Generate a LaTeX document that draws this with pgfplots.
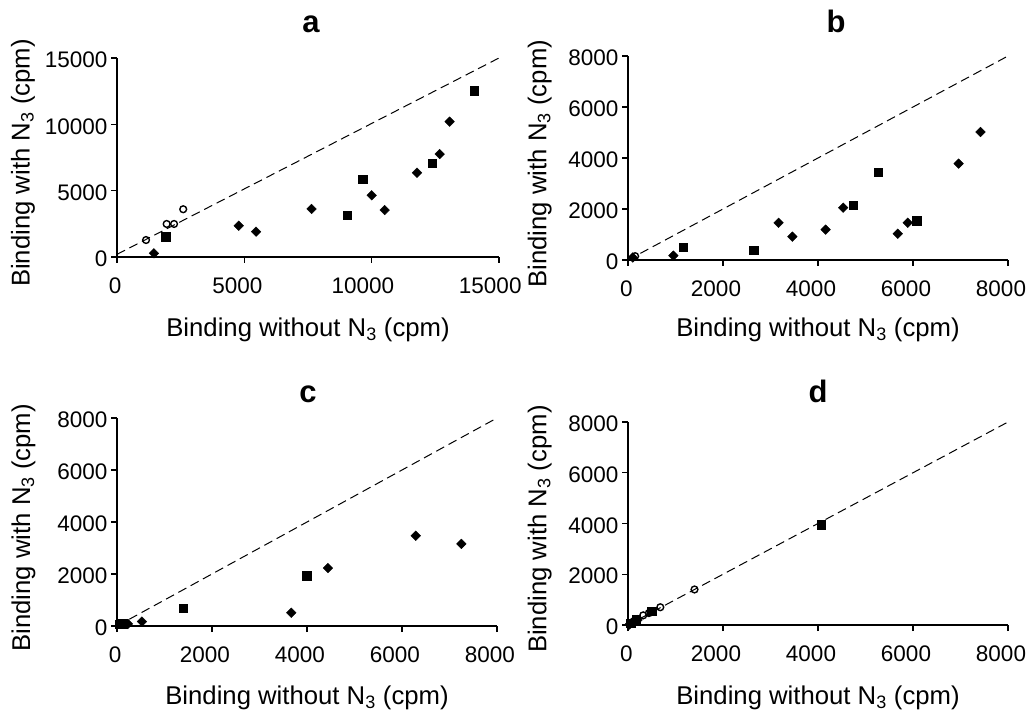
\documentclass[border=0pt]{standalone}
\usepackage{fontspec}
\setmainfont{Liberation Sans}
\usepackage{pgfplots}
\pgfplotsset{compat=1.18}
\begin{document}
\begin{tikzpicture}
\useasboundingbox (0,0) rectangle (1035pt,715pt);
\pgfplotsset{
 panel/.style={
  scale only axis,
  axis lines=left, axis line style={-, line width=1.2pt},
  tick align=outside, major tick length=6pt, tick style={line width=1.2pt, black},
  xmin=0, ymin=0,
  scaled ticks=false,
  tick label style={font=\fontsize{22.5}{22.5}\selectfont},
  xticklabel={\sbox0{\pgfmathprintnumber{\tick}}\usebox0\hspace*{0.28\wd0}},
  xticklabel style={yshift=-11pt},
  yticklabel style={yshift=-2pt},
  /pgf/number format/assume math mode=true,
  /pgf/number format/1000 sep={},
  xlabel={Binding without N\textsubscript{3} (cpm)},
  ylabel={Binding with N\textsubscript{3} (cpm)},
  label style={font=\fontsize{25.7}{25.7}\selectfont},
  clip=false,
 },
 dia/.style={only marks, mark=square*, mark size=3.4pt, black, mark options={rotate=45}},
 sq/.style={only marks, mark=square*, mark size=4.2pt, black},
 circ/.style={only marks, mark=o, mark size=3.4pt, black, mark options={line width=1.4pt, fill=white}},
 refl/.style={black, dash pattern=on 9pt off 5pt, line width=1pt, no marks},
}
% ---------------- panel a
\begin{axis}[panel, at={(117pt,458pt)}, anchor=south west, width=382pt, height=199pt,
  xmax=15000, ymax=15000, xtick={0,5000,10000,15000}, ytick={0,5000,10000,15000},
  xlabel style={at={(axis description cs:0.5,-0.367)}, anchor=center},
  ylabel style={at={(axis description cs:-0.246,0.472)}, anchor=center}]
\addplot[refl] coordinates {(0,200) (15000,15000)};
\addplot[dia] coordinates {(1450,280) (4780,2360) (5460,1910) (7640,3620) (10000,4650) (10510,3540) (11780,6350) (12670,7760) (13060,10200)};
\addplot[sq] coordinates {(1910,1530) (9030,3140) (9650,5880) (12370,7080) (14020,12530)};
\addplot[circ] coordinates {(1140,1280) (1950,2490) (2240,2490) (2600,3600)};
\end{axis}
% ---------------- panel b
\begin{axis}[panel, at={(628pt,455pt)}, anchor=south west, width=380pt, height=204pt,
  xmax=8000, ymax=8000, xtick={0,2000,4000,6000,8000}, ytick={0,2000,4000,6000,8000},
  xlabel style={at={(axis description cs:0.5,-0.343)}, anchor=center},
  ylabel style={at={(axis description cs:-0.232,0.472)}, anchor=center}]
\addplot[refl] coordinates {(0,0) (8000,8000)};
\addplot[dia] coordinates {(100,100) (955,170) (3170,1460) (3460,915) (4160,1190) (4530,2050) (5680,1030) (5890,1460) (6960,3780) (7420,5020)};
\addplot[sq] coordinates {(1160,510) (2650,390) (4740,2160) (5270,3440) (6080,1540)};
\addplot[circ] coordinates {(150,150)};
\end{axis}
% ---------------- panel c
\begin{axis}[panel, at={(117pt,89pt)}, anchor=south west, width=380pt, height=208pt,
  xmax=8000, ymax=8000, xtick={0,2000,4000,6000,8000}, ytick={0,2000,4000,6000,8000},
  xlabel style={at={(axis description cs:0.5,-0.346)}, anchor=center},
  ylabel style={at={(axis description cs:-0.246,0.472)}, anchor=center}]
\addplot[refl] coordinates {(0,0) (8000,8000)};
\addplot[dia] coordinates {(230,80) (525,170) (3670,510) (4440,2230) (6290,3470) (7250,3160)};
\addplot[sq] coordinates {(60,80) (120,90) (1390,690) (3990,1940)};
\addplot[circ] coordinates {(150,100)};
\end{axis}
% ---------------- panel d
\begin{axis}[panel, at={(628pt,90pt)}, anchor=south west, width=380pt, height=203pt,
  xmax=8000, ymax=8000, xtick={0,2000,4000,6000,8000}, ytick={0,2000,4000,6000,8000},
  xlabel style={at={(axis description cs:0.5,-0.36)}, anchor=center},
  ylabel style={at={(axis description cs:-0.232,0.472)}, anchor=center}]
\addplot[refl] coordinates {(0,0) (8000,8000)};
\addplot[dia] coordinates {(30,20) (100,90) (200,200)};
\addplot[sq] coordinates {(4070,3960) (500,540) (170,220) (60,70)};
\addplot[circ] coordinates {(1400,1400) (680,700) (440,470) (320,380) (120,150)};
\end{axis}
% ---------------- titles
\node[anchor=base, font=\fontsize{31}{31}\selectfont\bfseries] at (311pt,682pt) {a};
\node[anchor=base, font=\fontsize{31}{31}\selectfont\bfseries] at (836pt,682pt) {b};
\node[anchor=base, font=\fontsize{31}{31}\selectfont\bfseries] at (308pt,312pt) {c};
\node[anchor=base, font=\fontsize{31}{31}\selectfont\bfseries] at (818pt,312pt) {d};
\end{tikzpicture}
\end{document}
